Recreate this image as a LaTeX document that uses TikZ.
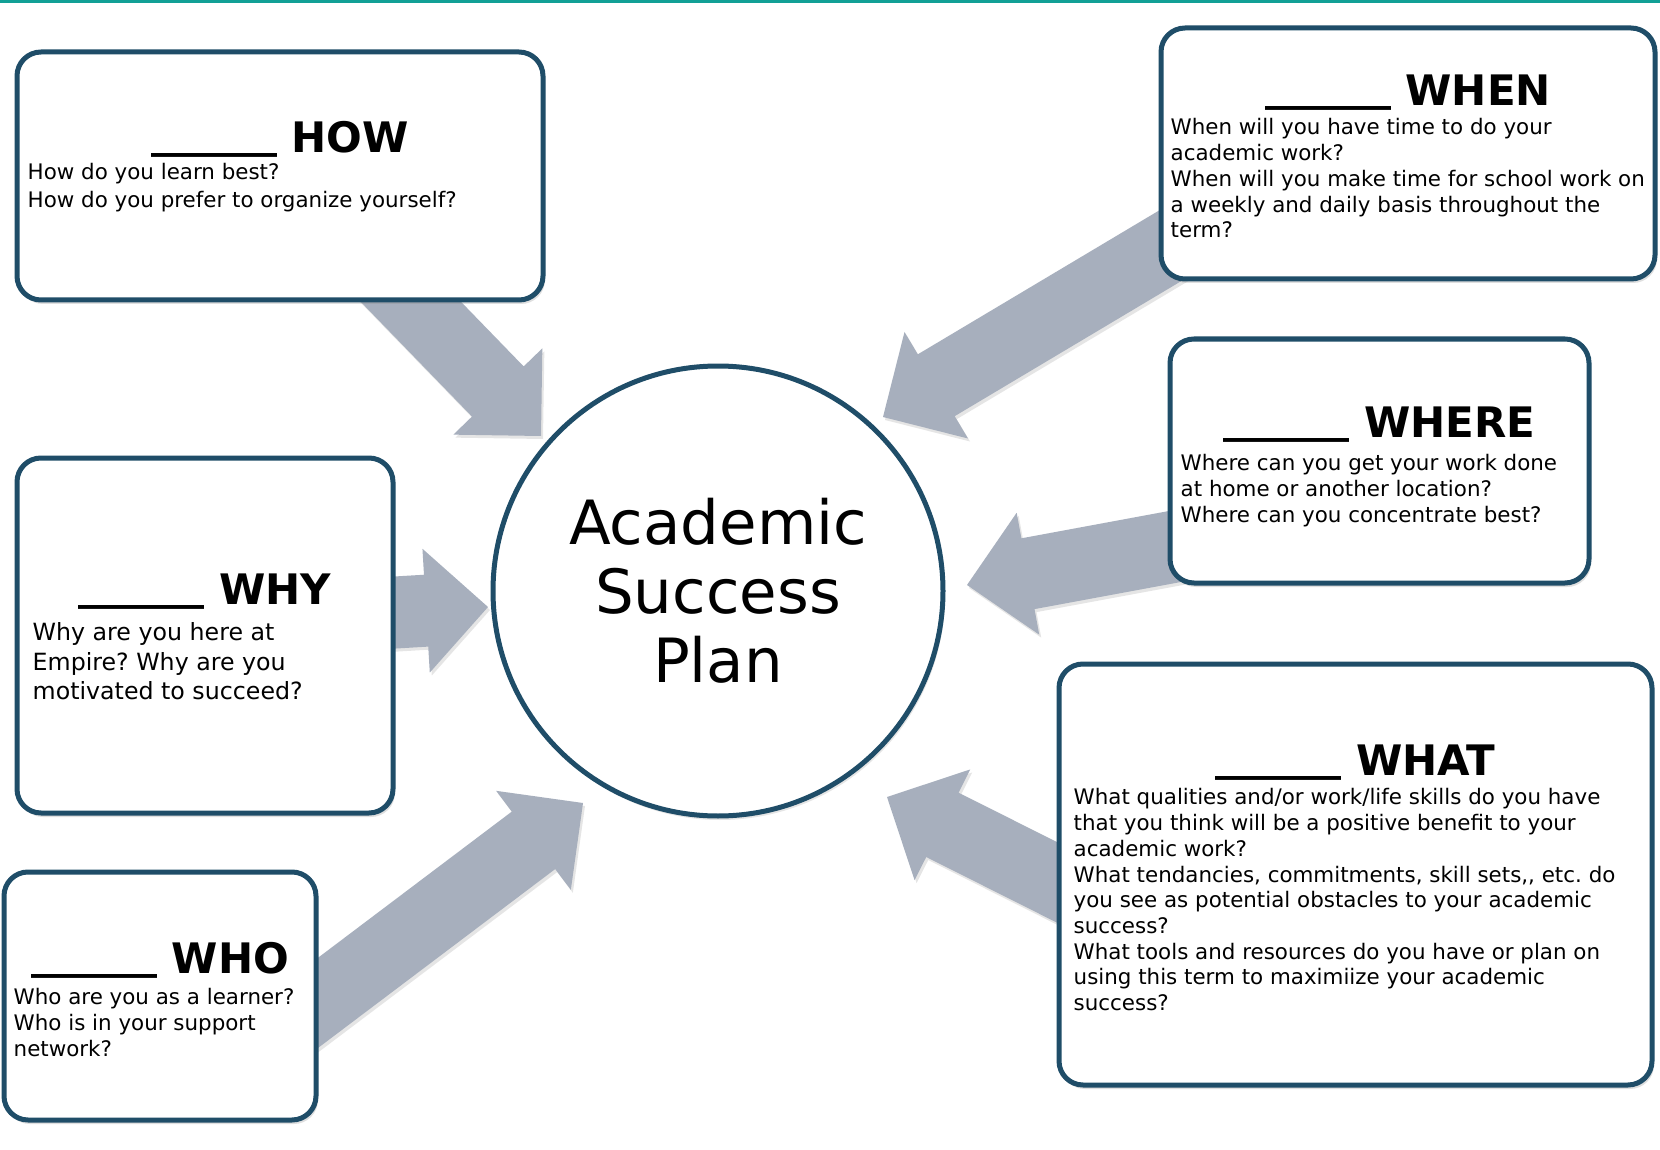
\documentclass[tikz,border=0pt]{standalone}
\usepackage{fontspec}
\setmainfont{DejaVu Sans}
\usepackage{tikz}
\usetikzlibrary{
  positioning, calc,
  backgrounds, shadows
}
\frenchspacing
\definecolor{boxline}{RGB}{31,77,104}
\definecolor{arrowgray}{RGB}{167,175,189}
\definecolor{topteal}{RGB}{18,160,150}
\tikzset{
  qbox/.style={rectangle,rounded corners=24pt,draw=boxline,line width=5pt,fill=white,inner sep=0pt,
    drop shadow={shadow xshift=2pt,shadow yshift=-4pt,opacity=0.25}},
  hubnode/.style={circle,draw=boxline,line width=5pt,fill=white,minimum size=450pt,inner sep=0pt,
    align=center,font=\fontsize{61}{69}\selectfont,
    drop shadow={shadow xshift=2pt,shadow yshift=-4pt,opacity=0.2}},
  qtitle/.style={inner sep=0pt,font=\fontsize{42}{50}\selectfont\bfseries},
  qtext/.style={inner sep=0pt,align=left,font=\fontsize{21.4}{25.7}\selectfont},
  fatfill/.style={fill=arrowgray,drop shadow={shadow xshift=2pt,shadow yshift=-3pt,opacity=0.2}}
}
%% blank line in front of each title
\newcommand{\blank}{\raisebox{5pt}{\_\_\_\_\_\_}}
%% block arrow: #1 tail, #2 tip, #3 prefix for its base point
\newcommand{\fatarrow}[3]{%
  \coordinate (#3base) at ($(#2)!62pt!(#1)$);
  \fill[fatfill] ($(#1)!36pt!90:(#2)$) -- ($(#3base)!36pt!90:(#2)$)
    -- ($(#3base)!62pt!90:(#2)$) -- (#2) -- ($(#3base)!62pt!-90:(#2)$)
    -- ($(#3base)!36pt!-90:(#2)$) -- ($(#1)!36pt!-90:(#2)$) -- cycle;
}

\begin{document}
\begin{tikzpicture}[x=1pt,y=-1pt]
  \useasboundingbox (0,0) rectangle (1660,1150);
  \fill[topteal] (0,0) rectangle (1660,3);

  %% Centre
  \node[hubnode] (plan) at (718,591) {Academic\\Success\\Plan};

  %% HOW
  \node[qbox,minimum width=526pt,minimum height=248pt] (how) at (280,176) {};
  \node[qtitle,below=103pt of how.north,anchor=base] (howtitle) {\blank{} HOW};
  \node[qtext,font=\fontsize{21.4}{27.5}\selectfont,below right=114pt and 13pt of how.north west] (howtext)
      {How do you learn best?\\How do you prefer to organize yourself?};

  %% WHEN
  \node[qbox,minimum width=494pt,minimum height=251pt] (when) at (1408,153.5) {};
  \node[qtitle,below=80pt of when.north,anchor=base] (whentitle) {\blank{} WHEN};
  \node[qtext,below right=93pt and 12pt of when.north west] (whentext)
      {When will you have time to do your\\academic work?\\When will you make time for school work on\\a weekly and daily basis throughout the\\term?};

  %% WHERE
  \node[qbox,minimum width=419pt,minimum height=244pt] (where) at (1379.5,461) {};
  \node[qtitle,below=101pt of where.north,anchor=base] (wheretitle) {\blank{} WHERE};
  \node[qtext,below right=118pt and 13pt of where.north west] (wheretext)
      {Where can you get your work done\\at home or another location?\\Where can you concentrate best?};

  %% WHY
  \node[qbox,minimum width=376pt,minimum height=355pt] (why) at (205,635.5) {};
  \node[qtitle,below=149pt of why.north,anchor=base] (whytitle) {\blank{} WHY};
  \node[qtext,font=\fontsize{23.7}{29.5}\selectfont,below right=167pt and 18pt of why.north west] (whytext)
      {Why are you here at\\Empire? Why are you\\motivated to succeed?};

  %% WHO
  \node[qbox,minimum width=312pt,minimum height=248pt] (who) at (160,996) {};
  \node[qtitle,below=104pt of who.north,anchor=base] (whotitle) {\blank{} WHO};
  \node[qtext,below right=119pt and 12pt of who.north west] (whotext)
      {Who are you as a learner?\\Who is in your support\\network?};

  %% WHAT
  \node[qbox,minimum width=593pt,minimum height=421pt] (what) at (1355.5,874.5) {};
  \node[qtitle,below=114pt of what.north,anchor=base] (whattitle) {\blank{} WHAT};
  \node[qtext,below right=127pt and 17pt of what.north west] (whattext)
      {What qualities and/or work/life skills do you have\\that you think will be a positive benefit to your\\academic work?\\What tendancies, commitments, skill sets,{},{} etc. do\\you see as potential obstacles to your academic\\success?\\What tools and resources do you have or plan on\\using this term to maximiize your academic\\success?};

  %% Arrow ends
  \coordinate (howtail) at (380,270);
  \coordinate (howtip) at (541,436);
  \coordinate (whentail) at (1200,228);
  \coordinate (whentip) at (883,417);
  \coordinate (wheretail) at (1210,540);
  \coordinate (wheretip) at (967,585);
  \coordinate (whattail) at (1110,909);
  \coordinate (whattip) at (887,797);
  \coordinate (whytail) at (370,614);
  \coordinate (whytip) at (488,607);
  \coordinate (whotail) at (290,1024);
  \coordinate (whotip) at (583,803);

  %% Arrows behind the boxes
  \begin{scope}[on background layer]
    \fill[white] (0,0) rectangle (1660,1150);
    \fatarrow{howtail}{howtip}{how}
    \fatarrow{whentail}{whentip}{when}
    \fatarrow{wheretail}{wheretip}{where}
    \fatarrow{whattail}{whattip}{what}
    \fatarrow{whytail}{whytip}{why}
    \fatarrow{whotail}{whotip}{who}
  \end{scope}
\end{tikzpicture}
\end{document}
